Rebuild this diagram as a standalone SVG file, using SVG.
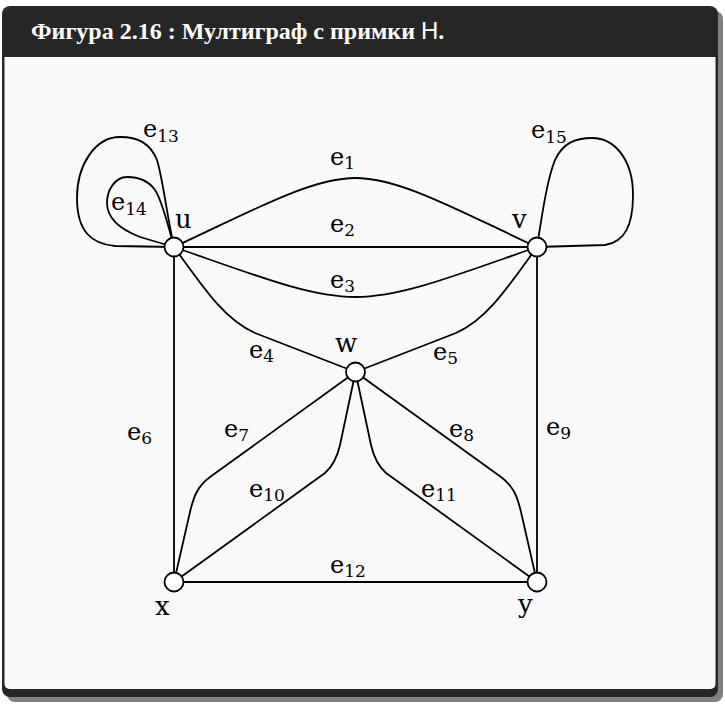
<svg xmlns="http://www.w3.org/2000/svg" width="725" height="705" viewBox="0 0 725 705">
<style>
.edge{fill:none;stroke:#000;stroke-width:1.8;stroke-linejoin:round}
.node{fill:#fff;stroke:#000;stroke-width:1.8}
.lbl{font-family:"DejaVu Serif","Liberation Serif",serif;font-size:24px;fill:#000}
.sub{font-size:17px}
.nl{font-family:"DejaVu Serif","Liberation Serif",serif;font-size:26px;fill:#000}
.title{font-family:"Liberation Serif",serif;font-weight:bold;font-size:24px;fill:#fff}
.titleh{font-family:"Liberation Sans",sans-serif;font-weight:normal;font-size:24px}
</style>
<rect x="0" y="0" width="725" height="705" fill="#fff"/>
<rect x="7" y="11" width="716" height="691" rx="8" fill="#808080"/>
<rect x="2" y="6" width="716" height="691" rx="8" fill="#262626"/>
<path d="M4.5,57 H715.5 V684 a5,5 0 0 1 -5,5 H9.5 a5,5 0 0 1 -5,-5 Z" fill="#f9f9f9"/>
<g id="title">
<text class="title" x="31" y="39">Фигура 2.16 : Мултиграф с примки <tspan class="titleh">H</tspan>.</text>
</g>

<g id="connectors">
<path id="e1" class="edge" d="M174,247 C250,212 310,178 355.5,178 S461,212 537,247"/>
<path id="e2" class="edge" d="M174,247 H537"/>
<path id="e3" class="edge" d="M174,247 C260,277 310,297 355.5,297 S451,277 537,247"/>
<path id="e4" class="edge" d="M174,247 C205,290 225,320 255,333 L355.5,372"/>
<path id="e5" class="edge" d="M537,247 C506,290 486,320 456,333 L355.5,372"/>
<path id="e6" class="edge" d="M174,247 V582"/>
<path id="e7" class="edge" d="M355.5,372 L210,477 C198,486 194,495 190,512 L174,582"/>
<path id="e8" class="edge" d="M355.5,372 L501,477 C513,486 517,495 521,512 L537,582"/>
<path id="e9" class="edge" d="M537,247 V582"/>
<path id="e10" class="edge" d="M355.5,372 L340,445 C337,458 333,466 325,473 L174,582"/>
<path id="e11" class="edge" d="M355.5,372 L371,445 C374,458 378,466 386,473 L537,582"/>
<path id="e12" class="edge" d="M174,582 H537"/>
<path id="e13" class="edge" d="M174,247 C166,210 163,180 157,160 C150,143 138,137 120,137 C95,137 77,165 77,198 C77,232 92,244 115,246 L174,247"/>
<path id="e14" class="edge" d="M174,247 C168,225 162,200 155,190 C148,180 138,177 127,177 C115,177 107,190 107,203 C107,220 122,230 140,237 L174,247"/>
<path id="e15" class="edge" d="M537,247 C542,215 547,180 555,160 C563,143 575,138 592,138 C615,138 633,160 633,195 C633,225 625,242 605,245 L537,247"/>
</g>

<g id="edge-labels">
<text class="lbl" x="143" y="137">e<tspan class="sub" dy="5">13</tspan></text>
<text class="lbl" x="111" y="210">e<tspan class="sub" dy="5">14</tspan></text>
<text class="lbl" x="531" y="138">e<tspan class="sub" dy="5">15</tspan></text>
<text class="lbl" x="330" y="165">e<tspan class="sub" dy="4">1</tspan></text>
<text class="lbl" x="330" y="232">e<tspan class="sub" dy="4">2</tspan></text>
<text class="lbl" x="330" y="288">e<tspan class="sub" dy="4">3</tspan></text>
<text class="lbl" x="249" y="358">e<tspan class="sub" dy="4">4</tspan></text>
<text class="lbl" x="433" y="360">e<tspan class="sub" dy="4">5</tspan></text>
<text class="lbl" x="127" y="440">e<tspan class="sub" dy="4">6</tspan></text>
<text class="lbl" x="224" y="437">e<tspan class="sub" dy="4">7</tspan></text>
<text class="lbl" x="449" y="437">e<tspan class="sub" dy="4">8</tspan></text>
<text class="lbl" x="546" y="435">e<tspan class="sub" dy="4">9</tspan></text>
<text class="lbl" x="249" y="497">e<tspan class="sub" dy="4">10</tspan></text>
<text class="lbl" x="421" y="497">e<tspan class="sub" dy="4">11</tspan></text>
<text class="lbl" x="330" y="573">e<tspan class="sub" dy="4">12</tspan></text>
</g>

<g id="node-u"><circle class="node" cx="174" cy="247" r="9.5"/><text class="nl" x="175" y="228">u</text></g>
<g id="node-v"><circle class="node" cx="537" cy="247" r="9.5"/><text class="nl" x="512" y="228">v</text></g>
<g id="node-w"><circle class="node" cx="355.5" cy="372" r="9.5"/><text class="nl" x="335" y="352">w</text></g>
<g id="node-x"><circle class="node" cx="174" cy="582" r="9.5"/><text class="nl" x="155" y="615">x</text></g>
<g id="node-y"><circle class="node" cx="537" cy="582" r="9.5"/><text class="nl" x="518" y="613">y</text></g>
</svg>
